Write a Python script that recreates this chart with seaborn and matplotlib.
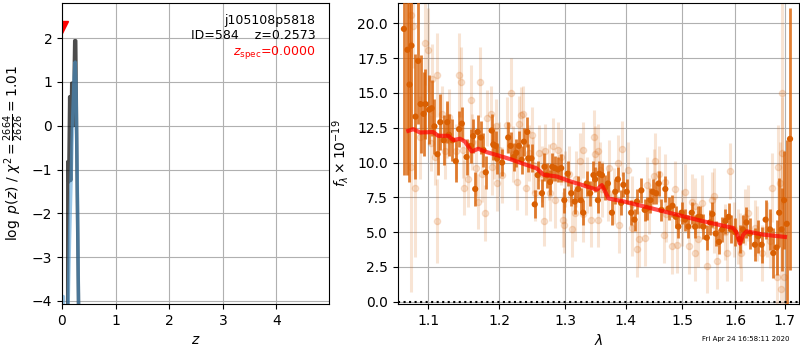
import numpy as np
import pandas as pd
import matplotlib
matplotlib.use("Agg")
import matplotlib.pyplot as plt
import seaborn as sns
from matplotlib.ticker import FixedLocator, FixedFormatter, NullLocator

# ---------------- data ----------------
# left panel: log p(z)
pz_z = [0.106, 0.108, 0.125, 0.143, 0.162, 0.181, 0.212, 0.237, 0.256, 0.275, 0.312]
pz_logp = [-4.5, -0.82, -1.28, 0.66, -1.25, 0.97, 0.0, 1.94, 1.94, -0.46, -4.5]
pzb_z = [0.107, 0.14, 0.17, 0.20, 0.225, 0.245, 0.26, 0.275, 0.29, 0.312]
pzb_logp = [-4.5, -2.6, -1.2, 0.2, 1.1, 1.45, 1.0, -0.3, -1.8, -4.5]
pzb2_z = [0.0, 0.025, 0.03]
pzb2_logp = [-3.9, -3.9, -4.5]
zspec_marker = (0.0, 2.25)

# right panel: spectrum (fitted grism data, darker)
dark_wave = [1.068, 1.0726, 1.0753, 1.0779, 1.0832, 1.0867, 1.0899, 1.0939, 1.0965, 1.1014,
             1.1048, 1.1085, 1.1127, 1.1165, 1.1212, 1.1260, 1.1283, 1.1331, 1.1378, 1.1424,
             1.1462, 1.1529, 1.1590, 1.1622, 1.1651, 1.1685, 1.1731, 1.1769, 1.1802, 1.1887,
             1.1911, 1.1944, 1.1967, 1.2040, 1.2130, 1.2165, 1.2214, 1.2250, 1.2289, 1.2330,
             1.2364, 1.2415, 1.2430, 1.2480, 1.2529, 1.2574, 1.2640, 1.2679, 1.2715, 1.2765,
             1.2799, 1.2840, 1.2889, 1.2940, 1.2990, 1.3043, 1.3100, 1.3155, 1.3210, 1.3255,
             1.3293, 1.3350, 1.3405, 1.3460, 1.3488, 1.3533, 1.3555, 1.3600, 1.3655, 1.3700,
             1.3767, 1.3822, 1.3867, 1.3922, 1.3960, 1.4018, 1.4094, 1.4152, 1.4194, 1.4270,
             1.4329, 1.4371, 1.4429, 1.4470, 1.4530, 1.4576, 1.4624, 1.4694, 1.4753, 1.4823,
             1.4883, 1.4929, 1.4989, 1.5051, 1.5112, 1.5176, 1.5238, 1.5300, 1.5335, 1.5393,
             1.5457, 1.5519, 1.5562, 1.5625, 1.5687, 1.5749, 1.5813, 1.5875, 1.5925, 1.6000,
             1.6087, 1.6154, 1.6223, 1.6290, 1.6391, 1.6458, 1.6527, 1.6608, 1.6696, 1.6763,
             1.6832, 1.6885, 1.6933, 1.6986, 1.7041, 1.7110]
dark_flux = [19.6, 18.1, 15.6, 18.4, 13.3, 17.3, 14.2, 13.5, 14.2, 13.8,
             13.9, 12.6, 10.6, 12.9, 11.6, 12.9, 12.0, 11.6, 10.1, 12.4,
             12.8, 10.4, 11.2, 11.9, 8.1, 12.2, 11.8, 10.9, 9.3, 12.3,
             11.3, 11.2, 10.3, 10.0, 11.8, 11.2, 10.4, 10.7, 11.2, 10.2,
             11.5, 12.2, 10.3, 10.3, 7.0, 9.1, 7.8, 9.7, 9.1, 8.6,
             9.7, 9.6, 9.5, 9.6, 7.3, 9.2, 7.8, 7.2, 8.1, 7.3,
             6.4, 8.5, 7.8, 9.1, 8.8, 7.3, 9.2, 9.1, 8.2, 8.5,
             6.4, 7.9, 8.8, 7.1, 8.4, 7.9, 6.4, 5.9, 7.2, 8.0,
             6.6, 6.7, 7.3, 7.9, 7.8, 8.5, 6.6, 8.1, 6.7, 6.9,
             6.1, 5.4, 6.4, 5.9, 5.4, 6.4, 5.4, 6.1, 6.1, 5.4,
             4.6, 5.7, 6.3, 4.9, 4.3, 5.2, 5.8, 6.1, 5.2, 5.0,
             4.5, 5.2, 5.7, 4.9, 4.1, 4.7, 4.1, 5.9, 5.2, 3.5,
             3.9, 6.4, 5.2, 7.3, 5.6, 11.7]
dark_err = [10.5, 9.0, 7.0, 6.0, 4.5, 4.5, 3.5, 3.0, 2.5, 2.5,
            2.0, 2.0, 1.5, 2.0, 1.8, 1.5, 1.5, 1.5, 1.5, 1.3,
            1.2, 1.3, 1.2, 1.2, 1.2, 1.2, 1.2, 1.2, 1.2, 1.2,
            1.1, 1.1, 1.1, 1.0, 1.1, 1.0, 1.0, 1.0, 1.1, 1.0,
            1.0, 1.1, 1.0, 1.0, 1.0, 1.0, 1.0, 1.0, 0.9, 0.9,
            1.0, 0.9, 0.9, 1.0, 0.9, 0.9, 0.9, 0.9, 0.9, 0.9,
            0.9, 0.9, 0.9, 1.0, 0.9, 0.9, 0.9, 0.9, 0.9, 0.9,
            0.9, 0.9, 0.9, 0.9, 0.9, 0.9, 0.9, 0.8, 0.9, 0.9,
            0.8, 0.8, 0.9, 0.9, 0.8, 0.9, 0.8, 0.9, 0.8, 0.8,
            0.8, 0.8, 0.8, 0.8, 0.8, 0.8, 0.8, 0.8, 0.8, 0.9,
            0.9, 0.9, 0.9, 0.9, 0.9, 0.9, 0.9, 1.0, 1.0, 1.0,
            1.0, 1.0, 1.1, 1.1, 1.2, 1.2, 1.3, 1.4, 1.5, 1.8,
            2.0, 2.5, 3.0, 3.5, 6.0, 9.4]

# right panel: individual exposures (light)
light_wave = [1.0770, 1.0779, 1.0800, 1.0832, 1.0891, 1.0965, 1.1000, 1.1038, 1.1048, 1.1095,
              1.1119, 1.1123, 1.1189, 1.1236, 1.1250, 1.1283, 1.1378, 1.1424, 1.1447, 1.1472,
              1.1494, 1.1542, 1.1590, 1.1600, 1.1660, 1.1685, 1.1721, 1.1754, 1.1792, 1.1826,
              1.1873, 1.1896, 1.1919, 1.1944, 1.1967, 1.2000, 1.2040, 1.2115, 1.2165, 1.2200,
              1.2265, 1.2289, 1.2315, 1.2355, 1.2400, 1.2439, 1.2490, 1.2500, 1.2540, 1.2589,
              1.2640, 1.2665, 1.2690, 1.2750, 1.2765, 1.2814, 1.2840, 1.2889, 1.2940, 1.2964,
              1.2980, 1.3000, 1.3072, 1.3110, 1.3155, 1.3183, 1.3238, 1.3285, 1.3293, 1.3350,
              1.3422, 1.3477, 1.3488, 1.3533, 1.3543, 1.3572, 1.3600, 1.3705, 1.3710, 1.3800,
              1.3867, 1.3888, 1.3943, 1.4046, 1.4100, 1.4106, 1.4194, 1.4223, 1.4329, 1.4371,
              1.4400, 1.4488, 1.4505, 1.4576, 1.4664, 1.4694, 1.4700, 1.4813, 1.4870, 1.4901,
              1.5000, 1.5051, 1.5131, 1.5176, 1.5238, 1.5245, 1.5300, 1.5370, 1.5464, 1.5557,
              1.5588, 1.5600, 1.5651, 1.5800, 1.5838, 1.5893, 1.5974, 1.6053, 1.6100, 1.6122,
              1.6189, 1.6256, 1.6400, 1.6425, 1.6527, 1.6628, 1.6700, 1.6730, 1.6832, 1.6864,
              1.6899, 1.6919, 1.6945, 1.6953, 1.6986]
light_flux = [9.7, 20.6, 19.8, 8.2, 11.8, 18.6, 18.1, 11.4, 16.0, 10.4,
              16.3, 5.8, 13.5, 10.8, 12.3, 13.3, 10.8, 16.3, 15.8, 10.9,
              8.2, 8.8, 14.5, 11.5, 9.6, 7.2, 15.8, 9.2, 6.4, 13.2,
              13.5, 9.7, 10.8, 12.6, 8.5, 10.9, 9.1, 12.7, 15.0, 10.6,
              8.6, 12.8, 13.4, 13.5, 8.2, 10.7, 12.0, 9.8, 7.8, 10.7,
              9.2, 5.8, 10.8, 9.3, 7.8, 11.2, 7.3, 10.9, 10.4, 5.9,
              5.5, 8.8, 9.2, 5.2, 6.4, 8.8, 10.1, 10.9, 6.3, 8.4,
              5.9, 11.8, 10.6, 5.9, 10.8, 9.5, 8.1, 7.8, 9.6, 7.6,
              10.0, 5.5, 11.0, 9.5, 7.0, 5.3, 3.8, 4.5, 4.6, 8.4,
              6.9, 9.0, 10.1, 9.2, 4.8, 8.6, 6.3, 4.0, 8.1, 4.1,
              6.0, 7.9, 4.0, 7.2, 3.5, 6.9, 4.5, 7.1, 2.6, 7.3,
              7.6, 5.5, 2.9, 5.0, 3.5, 9.4, 5.2, 4.7, 4.4, 3.5,
              6.1, 6.4, 5.3, 4.9, 3.5, 5.2, 4.4, 8.2, 1.8, 9.7,
              8.5, 0.9, 10.7, 15.0, 1.8]
light_err = [9.0, 3.0, 3.0, 5.0, 3.0, 3.0, 3.0, 2.0, 2.5, 2.0,
             3.0, 3.0, 2.0, 2.0, 2.0, 2.0, 2.0, 3.0, 2.5, 2.0,
             2.0, 2.0, 2.5, 2.0, 2.0, 2.0, 2.5, 2.0, 2.0, 2.0,
             2.0, 2.0, 2.0, 2.0, 2.0, 2.0, 2.0, 2.0, 2.5, 2.0,
             2.0, 2.0, 2.0, 2.0, 2.0, 2.0, 2.0, 2.0, 2.0, 2.0,
             2.0, 1.8, 2.0, 2.0, 2.0, 2.0, 2.0, 2.0, 2.0, 2.0,
             2.0, 2.0, 2.0, 2.0, 2.0, 2.0, 2.0, 2.0, 2.0, 2.0,
             2.0, 2.0, 2.0, 2.0, 2.0, 2.0, 2.0, 2.0, 2.0, 2.0,
             2.0, 2.0, 2.0, 2.0, 2.0, 2.0, 2.0, 2.0, 2.0, 2.0,
             2.0, 2.0, 2.0, 2.0, 2.0, 2.0, 2.0, 2.0, 2.0, 2.0,
             2.0, 2.0, 2.0, 2.0, 2.0, 2.0, 2.0, 2.0, 2.0, 2.0,
             2.0, 2.0, 2.0, 2.0, 2.0, 2.0, 2.0, 2.0, 2.0, 2.0,
             2.0, 2.0, 2.0, 2.0, 2.0, 2.0, 2.0, 2.5, 2.5, 3.0,
             3.0, 3.0, 4.0, 8.0, 3.0]

# right panel: best-fit model
model_wave = [1.0737, 1.0803, 1.0891, 1.1069, 1.1137, 1.1274, 1.1343, 1.1436, 1.1506, 1.1601,
              1.1695, 1.1816, 1.1961, 1.2157, 1.2356, 1.2560, 1.2662, 1.2871, 1.3083, 1.3297,
              1.3517, 1.3599, 1.3710, 1.3963, 1.4421, 1.4899, 1.5391, 1.5965, 1.6031, 1.6095,
              1.6160, 1.6228, 1.6561, 1.7004]
model_flux = [12.28, 12.40, 12.16, 12.19, 11.92, 11.92, 11.61, 11.71, 11.51, 10.80,
              10.99, 10.75, 10.54, 10.25, 9.91, 9.58, 9.13, 9.00, 8.65, 8.36,
              8.05, 8.38, 7.42, 7.21, 6.74, 6.26, 5.78, 5.30, 4.95, 4.18,
              4.82, 5.06, 4.82, 4.66]

spec_xticks = [1.1, 1.2, 1.3, 1.4, 1.5, 1.6, 1.7]
spec_yticks = [0.0, 2.5, 5.0, 7.5, 10.0, 12.5, 15.0, 17.5, 20.0]
pz_xticks = [0, 1, 2, 3, 4]
pz_yticks = [-4, -3, -2, -1, 0, 1, 2]

# ---------------- plot ----------------
plt.rcParams['font.family'] = ['DejaVu Sans']
plt.rcParams['mathtext.fontset'] = 'dejavusans'

fig = plt.figure(figsize=(8, 3.5), dpi=100)
ax1 = fig.add_axes([0.0775, 0.1314, 0.3338, 0.8600])
ax2 = fig.add_axes([0.4969, 0.1314, 0.5019, 0.8600])

orange = '#d95f02'

# --- p(z)
sns.lineplot(x=pz_z, y=pz_logp, ax=ax1, color='k', alpha=0.7, lw=2.5, sort=False)
sns.lineplot(x=pzb_z, y=pzb_logp, ax=ax1, color='#4a9ad6', alpha=0.55, lw=2.5, sort=False)
sns.lineplot(x=pzb2_z, y=pzb2_logp, ax=ax1, color='#4a9ad6', alpha=0.55, lw=2.5, sort=False)
ax1.plot([zspec_marker[0]], [zspec_marker[1]], marker='v', color='r', ms=8, ls='none')
ax1.set_xlim(0, 4.98)
ax1.set_ylim(-4.07, 2.8)
ax1.set_xticks(pz_xticks)
ax1.set_yticks(pz_yticks)
ax1.grid(True)
ax1.set_xlabel('$z$')
ax1.set_ylabel(r'$\log\ p(z)$' + ' / ' + r'$\chi^2=\frac{2664}{2626}=1.01$')
ax1.text(0.95, 0.965, 'j105108p5818\nID=584    z=0.2573', ha='right', va='top',
         transform=ax1.transAxes, fontsize=9)
ax1.text(0.95, 0.865, r'$z_\mathrm{spec}$=0.0000', ha='right', va='top', color='r',
         transform=ax1.transAxes, fontsize=9)

# --- spectrum
ax2.set_xscale('log')
ax2.errorbar(light_wave, light_flux, yerr=light_err, fmt='o', color=orange, alpha=0.17,
             ms=4.5, elinewidth=2.2, capsize=0, zorder=2)
ax2.errorbar(dark_wave, dark_flux, yerr=dark_err, fmt='none', ecolor=orange, alpha=0.8,
             elinewidth=2.0, capsize=0, zorder=3)
sns.scatterplot(x=dark_wave, y=dark_flux, ax=ax2, color=orange, s=20, edgecolor='none',
                zorder=4, legend=False)
sns.lineplot(x=model_wave, y=model_flux, ax=ax2, color='red', alpha=0.7, lw=3, zorder=5)
ax2.axhline(0, color='k', ls=':', lw=1.5, zorder=6)

ax2.set_xlim(1.0597, 1.7299)
ax2.set_ylim(-0.16, 21.46)
ax2.xaxis.set_major_locator(FixedLocator(spec_xticks))
ax2.xaxis.set_major_formatter(FixedFormatter([f'{t:.1f}' for t in spec_xticks]))
ax2.xaxis.set_minor_locator(NullLocator())
ax2.set_yticks(spec_yticks)
ax2.set_yticklabels([f'{t:.1f}' for t in spec_yticks])
ax2.grid(True)
ax2.set_xlabel(r'$\lambda$')
ax2.set_ylabel(r'$f_\lambda \times 10^{-19}$')

fig.text(0.987, 0.022, 'Fri Apr 24 16:58:11 2020', ha='right', va='bottom', fontsize=5)

fig.savefig('out.png', dpi=100)
